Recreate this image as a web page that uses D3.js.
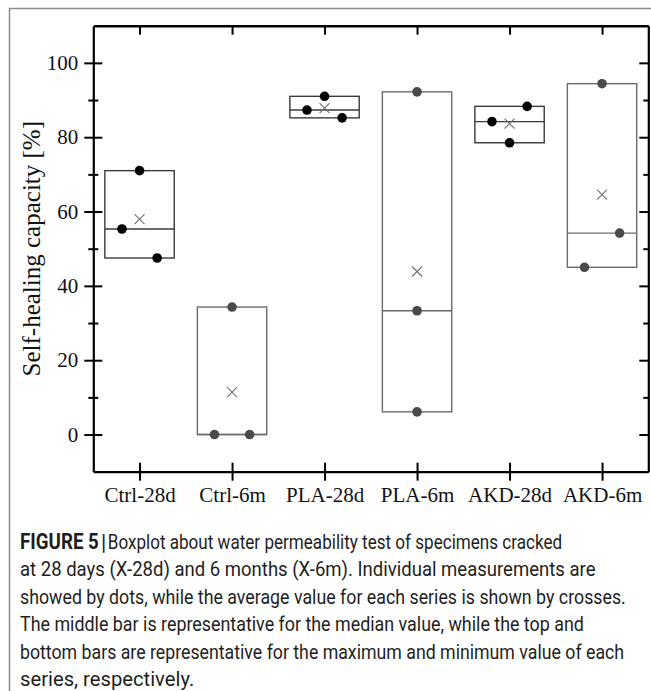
<!DOCTYPE html>
<html>
<head>
<meta charset="utf-8">
<script src="https://cdn.jsdelivr.net/npm/d3@7"></script>
<style>
  html, body { margin: 0; padding: 0; background: #fff; }
  svg { display: block; }
</style>
</head>
<body>
<svg id="chart" width="651" height="691"></svg>
<script>
// ---- data ----
const categories = ["Ctrl-28d", "Ctrl-6m", "PLA-28d", "PLA-6m", "AKD-28d", "AKD-6m"];
const measurements = [
  [55.3, 71.0, 47.5],
  [0.0, 34.3, 0.0],
  [87.3, 91.0, 85.2],
  [92.2, 33.3, 6.1],
  [84.2, 78.5, 88.3],
  [45.0, 94.4, 54.2]
];
// which side of the category each measurement dot sits on (-1 left, 0 centre, 1 right)
const dotSlots = [
  [-1, 0, 1],
  [-1, 0, 1],
  [-1, 0, 1],
  [0, 0, 0],
  [-1, 0, 1],
  [-1, 0, 1]
];
const yMajorTicks = [0, 20, 40, 60, 80, 100];
const yMinorTicks = [10, 30, 50, 70, 90];
const yTitle = "Self-healing capacity [%]";
const captionLines = [
  [["FIGURE 5", 700], ["|", 700], ["Boxplot about water permeability test of specimens cracked", 400]],
  [["at 28 days (X-28d) and 6 months (X-6m). Individual measurements are", 400]],
  [["showed by dots, while the average value for each series is shown by crosses.", 400]],
  [["The middle bar is representative for the median value, while the top and", 400]],
  [["bottom bars are representative for the maximum and minimum value of each", 400]],
  [["series, respectively.", 400]]
];
const captionLineEnds = [537, 620, 626, 587, 623, 218];

// ---- layout ----
const svg = d3.select("#chart");
const L = 93.3, R = 648.3, T = 25.7, B = 471.7;
const x = d3.scaleLinear().domain([0.5, categories.length + 0.5]).range([L, R]);
const y = d3.scaleLinear().domain([-10, 110]).range([B, T]);
const boxW = 0.75, slotOff = 0.19;
const serif = "'Liberation Serif', 'Times New Roman', serif";

// outer frame
svg.append("path")
  .attr("d", "M9.5,691 V8.5 H651")
  .attr("fill", "none").attr("stroke", "#8a8a8a").attr("stroke-width", 1.5);

const stats = categories.map((c, i) => {
  const v = measurements[i];
  return {
    cat: c, i: i + 1, young: c.endsWith("28d"),
    min: d3.min(v), max: d3.max(v), med: d3.median(v), mean: d3.mean(v)
  };
});

const g = svg.append("g");

// boxes
stats.forEach(s => {
  const col = s.young ? "#3a3a3a" : "#6a6a6a";
  const x0 = x(s.i - boxW / 2), x1 = x(s.i + boxW / 2);
  g.append("rect")
    .attr("x", x0).attr("y", y(s.max))
    .attr("width", x1 - x0).attr("height", y(s.min) - y(s.max))
    .attr("fill", "none").attr("stroke", col).attr("stroke-width", 1.4);
  g.append("line")
    .attr("x1", x0).attr("x2", x1).attr("y1", y(s.med)).attr("y2", y(s.med))
    .attr("stroke", col).attr("stroke-width", 1.4);
  // mean cross
  const cx = x(s.i), cy = y(s.mean), h = 5;
  g.append("path")
    .attr("d", `M${cx - h},${cy - h}L${cx + h},${cy + h}M${cx - h},${cy + h}L${cx + h},${cy - h}`)
    .attr("stroke", "#707070").attr("stroke-width", 1.1).attr("fill", "none");
});

// dots
stats.forEach((s, k) => {
  measurements[k].forEach((v, j) => {
    g.append("circle")
      .attr("cx", x(s.i + dotSlots[k][j] * slotOff))
      .attr("cy", y(v))
      .attr("r", 4.8)
      .attr("fill", s.young ? "#000" : "#4a4a4a");
  });
});

// ---- axes ----
function styleAxis(sel) {
  sel.select(".domain").attr("stroke", "#000").attr("stroke-width", 2.2);
  sel.selectAll(".tick line").attr("stroke", "#000").attr("stroke-width", 2);
  sel.selectAll("text").attr("font-family", serif).attr("font-size", 21).attr("fill", "#111");
}
// left major
const gl = svg.append("g").attr("transform", `translate(${L},0)`)
  .call(d3.axisLeft(y).tickValues(yMajorTicks).tickSize(9).tickSizeOuter(0).tickPadding(6));
gl.selectAll(".tick line").attr("x1", 9);
styleAxis(gl);
gl.selectAll("text").attr("x", -15);
// left minor
const glm = svg.append("g").attr("transform", `translate(${L},0)`)
  .call(d3.axisLeft(y).tickValues(yMinorTicks).tickSize(5).tickFormat(""));
glm.select(".domain").remove();
glm.selectAll(".tick line").attr("x1", 5).attr("stroke", "#000").attr("stroke-width", 2);
// right
const gr = svg.append("g").attr("transform", `translate(${R},0)`)
  .call(d3.axisRight(y).tickValues(yMajorTicks).tickSize(-9).tickSizeOuter(0).tickFormat(""));
styleAxis(gr);
const grm = svg.append("g").attr("transform", `translate(${R},0)`)
  .call(d3.axisRight(y).tickValues(yMinorTicks).tickSize(-5).tickFormat(""));
grm.select(".domain").remove();
grm.selectAll(".tick line").attr("stroke", "#000").attr("stroke-width", 2);
// top
const gt = svg.append("g").attr("transform", `translate(0,${T})`)
  .call(d3.axisTop(x).tickValues(d3.range(1, categories.length + 1)).tickSize(-9).tickSizeOuter(0).tickFormat(""));
styleAxis(gt);
gt.select(".domain").attr("stroke-width", 2.6);
// bottom
const gb = svg.append("g").attr("transform", `translate(0,${B})`)
  .call(d3.axisBottom(x).tickValues(d3.range(1, categories.length + 1)).tickSize(9).tickSizeOuter(0)
    .tickFormat(d => categories[d - 1]));
gb.selectAll(".tick line").attr("y1", -9);
styleAxis(gb);
gb.selectAll("text").attr("y", 30).attr("dy", 0);

// y title
svg.append("text")
  .attr("transform", `translate(40,${(T + B) / 2}) rotate(-90)`)
  .attr("text-anchor", "middle")
  .attr("font-family", serif).attr("font-size", 25).attr("fill", "#111")
  .text(yTitle);

// ---- caption (uniform condensing, nudged halfway toward each line's width) ----
const capX = 20, capY0 = 549, capDy = 27.5;
const capGroups = captionLines.map((line, i) => {
  const lg = svg.append("g");
  const t = lg.append("text")
    .attr("x", 0).attr("y", capY0 + i * capDy)
    .attr("font-family", "Roboto, 'Liberation Sans', sans-serif")
    .attr("font-size", 20.5).attr("fill", "#1e1e1e");
  line.forEach(([txt, w]) => {
    const ts = t.append("tspan").attr("font-weight", w).text(txt);
    if (w === 700) ts.attr("font-size", 22.5);
    if (txt === "|") ts.attr("dx", 3).attr("dy", 1);
    if (txt.startsWith("Boxplot")) ts.attr("dx", 2).attr("dy", -1);
  });
  return { lg, natural: t.node().getComputedTextLength(), target: captionLineEnds[i] - capX };
});
const kUniform = capGroups[2].target / capGroups[2].natural;
capGroups.forEach(c => {
  const k = Math.sqrt(kUniform * (c.target / c.natural));
  c.lg.attr("transform", `translate(${capX},0) scale(${k},1)`);
});
</script>
</body>
</html>
